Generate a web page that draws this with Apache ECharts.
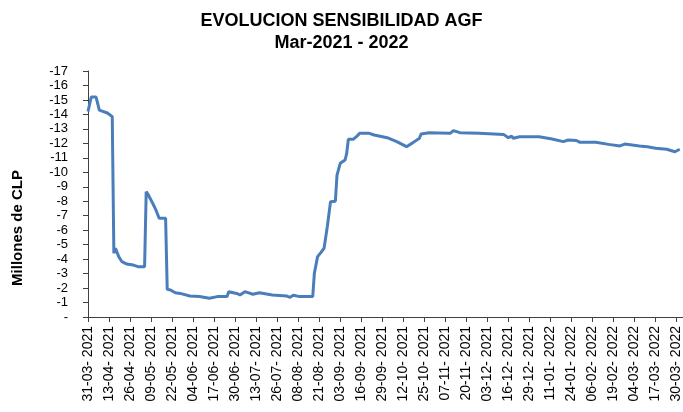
<!DOCTYPE html>
<html>
<head>
<meta charset="utf-8">
<script src="https://cdn.jsdelivr.net/npm/echarts@6/dist/echarts.min.js"></script>
<style>
  html, body { margin: 0; padding: 0; background: #fff; }
  #chart { width: 683px; height: 412px; }
</style>
</head>
<body>
<div id="chart"></div>
<script>
// puntos (fecha, millones de CLP)
var fechas = ['31-03-2021', '02-04-2021', '05-04-2021', '07-04-2021', '12-04-2021', '15-04-2021',
    '16-04-2021', '17-04-2021', '19-04-2021', '21-04-2021', '24-04-2021', '28-04-2021',
    '01-05-2021', '05-05-2021', '06-05-2021', '07-05-2021', '10-05-2021', '12-05-2021',
    '14-05-2021', '18-05-2021', '19-05-2021', '21-05-2021', '24-05-2021', '27-05-2021',
    '02-06-2021', '08-06-2021', '14-06-2021', '19-06-2021', '25-06-2021', '26-06-2021',
    '01-07-2021', '03-07-2021', '06-07-2021', '11-07-2021', '15-07-2021', '23-07-2021',
    '01-08-2021', '03-08-2021', '05-08-2021', '09-08-2021', '17-08-2021', '18-08-2021',
    '20-08-2021', '22-08-2021', '24-08-2021', '26-08-2021', '28-08-2021', '31-08-2021',
    '01-09-2021', '02-09-2021', '03-09-2021', '06-09-2021', '07-09-2021', '08-09-2021',
    '11-09-2021', '13-09-2021', '15-09-2021', '21-09-2021', '24-09-2021', '02-10-2021',
    '08-10-2021', '14-10-2021', '18-10-2021', '22-10-2021', '23-10-2021', '28-10-2021',
    '10-11-2021', '12-11-2021', '16-11-2021', '28-11-2021', '13-12-2021', '16-12-2021',
    '18-12-2021', '19-12-2021', '23-12-2021', '04-01-2022', '12-01-2022', '19-01-2022',
    '22-01-2022', '27-01-2022', '29-01-2022', '08-02-2022', '16-02-2022', '23-02-2022',
    '26-02-2022', '07-03-2022', '12-03-2022', '13-03-2022', '17-03-2022', '24-03-2022',
    '26-03-2022', '29-03-2022', '01-04-2022'];
var valores = [-14.2, -15.2, -15.2, -14.3, -14.1, -13.85,
    -4.4, -4.75, -4.17, -3.82, -3.66, -3.59,
    -3.48, -3.48, -8.66, -8.5, -7.86, -7.4,
    -6.82, -6.82, -1.91, -1.87, -1.68, -1.63,
    -1.45, -1.41, -1.29, -1.41, -1.41, -1.75,
    -1.63, -1.52, -1.75, -1.57, -1.68, -1.52,
    -1.45, -1.36, -1.5, -1.41, -1.41, -3.02,
    -4.17, -4.45, -4.75, -6.24, -7.97, -8.0,
    -9.8, -9.8, -10.62, -10.85, -11.3, -12.28,
    -12.28, -12.46, -12.69, -12.69, -12.58, -12.39,
    -12.12, -11.77, -12.05, -12.35, -12.65, -12.74,
    -12.69, -12.88, -12.74, -12.69, -12.62, -12.39,
    -12.5, -12.35, -12.46, -12.46, -12.3, -12.12,
    -12.23, -12.2, -12.08, -12.08, -11.93, -11.82,
    -11.95, -11.82, -11.77, -11.88, -11.66, -11.59,
    -11.52, -11.42, -11.59];

// eje x: un dia por categoria, etiqueta cada 13 dias
var inicio = Date.UTC(2021, 2, 31);
var fin = Date.UTC(2022, 3, 3);
var dias = [];
function fmt(t) {
    var d = new Date(t);
    var dd = ('0' + d.getUTCDate()).slice(-2);
    var mm = ('0' + (d.getUTCMonth() + 1)).slice(-2);
    return dd + '-' + mm + '-' + d.getUTCFullYear();
}
for (var t = inicio; t <= fin; t += 86400000) {
    dias.push(fmt(t));
}
var cadaN = 13;

var serie = [];
for (var i = 0; i < fechas.length; i++) {
    serie.push([fechas[i], valores[i]]);
}

var chart = echarts.init(document.getElementById('chart'));
var font = '"Liberation Sans", Arial, sans-serif';
var option = {
    animation: false,
    title: {
        text: 'EVOLUCION SENSIBILIDAD AGF\nMar-2021 - 2022',
        left: 'center',
        top: 5,
        textStyle: {
            fontFamily: font,
            fontSize: 18,
            fontWeight: 'bold',
            color: '#000',
            lineHeight: 22
        }
    },
    graphic: [{
        type: 'text',
        x: 18,
        y: 228,
        rotation: Math.PI / 2,
        style: {
            text: 'Millones de CLP',
            font: 'bold 15px ' + font,
            fill: '#000',
            align: 'center',
            verticalAlign: 'middle'
        }
    }],
    grid: {
        left: 88,
        right: 0,
        top: 71,
        bottom: 95,
        containLabel: false,
        outerBoundsMode: 'none'
    },
    xAxis: {
        type: 'category',
        data: dias,
        boundaryGap: false,
        axisLine: { lineStyle: { color: '#404040', width: 1 } },
        axisTick: {
            interval: function (idx) { return idx % cadaN === 0; },
            length: 5,
            lineStyle: { color: '#404040' }
        },
        axisLabel: {
            interval: function (idx) { return idx % cadaN === 0; },
            rotate: 90,
            margin: 9,
            color: '#000',
            fontFamily: font,
            fontSize: 14,
            formatter: function (v) { return v.slice(0, 6) + ' ' + v.slice(6); }
        },
        splitLine: { show: false }
    },
    yAxis: {
        type: 'value',
        inverse: true,
        min: -17,
        max: 0,
        interval: 1,
        axisLine: { show: true, lineStyle: { color: '#404040', width: 1 } },
        axisTick: { show: true, length: 5, lineStyle: { color: '#404040' } },
        axisLabel: {
            margin: 20,
            color: '#000',
            fontFamily: font,
            fontSize: 13,
            formatter: function (v) { return v === 0 ? '-' : String(v); }
        },
        splitLine: { show: false }
    },
    series: [{
        type: 'line',
        data: serie,
        showSymbol: false,
        lineStyle: { color: '#4a7ebb', width: 3 },
        itemStyle: { color: '#4a7ebb' }
    }]
};
chart.setOption(option);
</script>
</body>
</html>
